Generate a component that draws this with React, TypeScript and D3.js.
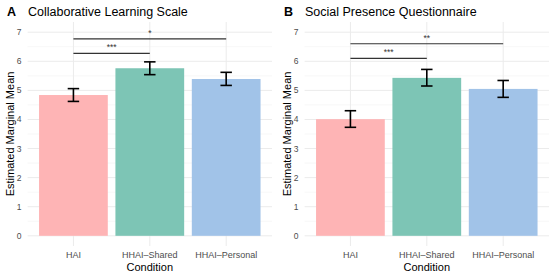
import * as d3 from "d3";

const conditions = ["HAI", "HHAI–Shared", "HHAI–Personal"];
const colors = ["#FEB4B5", "#7DC5B5", "#A1C3E8"];

// panel A: Collaborative Learning Scale
const clsMean = [4.84, 5.76, 5.39];
const clsLow = [4.62, 5.54, 5.17];
const clsHigh = [5.06, 5.98, 5.62];
const clsBrackets = [
  { from: 0, to: 1, y: 6.27, label: "***" },
  { from: 0, to: 2, y: 6.77, label: "*" },
];

// panel B: Social Presence Questionnaire
const spqMean = [4.01, 5.43, 5.05];
const spqLow = [3.73, 5.15, 4.76];
const spqHigh = [4.3, 5.72, 5.34];
const spqBrackets = [
  { from: 0, to: 1, y: 6.1, label: "***" },
  { from: 0, to: 2, y: 6.6, label: "**" },
];

const yTicks = [0, 1, 2, 3, 4, 5, 6, 7];
const FONT = "'Liberation Sans', Arial, sans-serif";

interface PanelProps {
  x0: number;
  tag: string;
  title: string;
  mean: number[];
  low: number[];
  high: number[];
  brackets: { from: number; to: number; y: number; label: string }[];
}

const TOP = 22;
const BOTTOM = 246;

function ChartPanel({ x0, tag, title, mean, low, high, brackets }: PanelProps) {
  const left = x0 + 27.6;
  const right = x0 + 272;
  const y = d3.scaleLinear().domain([-0.35, 7.35]).range([BOTTOM, TOP]);
  // discrete axis with 0.6 expansion on each side, like ggplot
  const x = d3.scaleLinear().domain([0.4, 3.6]).range([left, right]);
  const bw = x(0.45) - x(0);
  const cap = x(0.075) - x(0);
  const minor = d3.range(0.5, 7.5, 1);

  return (
    <g>
      <text x={x0 + 7} y={16} fontFamily={FONT} fontSize={12.5} fontWeight="bold" fill="#000">
        {tag}
      </text>
      <text x={x0 + 28} y={16} fontFamily={FONT} fontSize={12.5} fill="#000">
        {title}
      </text>

      {minor.map((t) => (
        <line key={"m" + t} x1={left} x2={right} y1={y(t)} y2={y(t)} stroke="#F2F2F2" strokeWidth={0.6} />
      ))}
      {yTicks.map((t) => (
        <line key={"g" + t} x1={left} x2={right} y1={y(t)} y2={y(t)} stroke="#EBEBEB" strokeWidth={1} />
      ))}
      {conditions.map((_, i) => (
        <line key={"v" + i} x1={x(i + 1)} x2={x(i + 1)} y1={TOP} y2={BOTTOM} stroke="#EBEBEB" strokeWidth={1} />
      ))}

      {yTicks.map((t) => (
        <text
          key={"yt" + t}
          x={left - 6}
          y={y(t)}
          dy="0.35em"
          textAnchor="end"
          fontFamily={FONT}
          fontSize={8.5}
          fill="#4D4D4D"
        >
          {t}
        </text>
      ))}

      {mean.map((m, i) => (
        <rect
          key={"b" + i}
          x={x(i + 1) - bw}
          width={bw * 2}
          y={y(m)}
          height={y(0) - y(m)}
          fill={colors[i]}
        />
      ))}

      {mean.map((_, i) => {
        const cx = x(i + 1);
        return (
          <g key={"e" + i} stroke="#000" strokeWidth={1.6} fill="none">
            <line x1={cx} x2={cx} y1={y(low[i])} y2={y(high[i])} />
            <line x1={cx - cap} x2={cx + cap} y1={y(low[i])} y2={y(low[i])} />
            <line x1={cx - cap} x2={cx + cap} y1={y(high[i])} y2={y(high[i])} />
          </g>
        );
      })}

      {brackets.map((b, i) => {
        const xa = x(b.from + 1);
        const xb = x(b.to + 1);
        return (
          <g key={"s" + i}>
            <line x1={xa} x2={xb} y1={y(b.y)} y2={y(b.y)} stroke="#333" strokeWidth={1.1} />
            <text
              x={(xa + xb) / 2}
              y={y(b.y) - 3}
              textAnchor="middle"
              fontFamily={FONT}
              fontSize={8.5}
              fill="#333"
            >
              {b.label}
            </text>
          </g>
        );
      })}

      {conditions.map((c, i) => (
        <text
          key={"xt" + i}
          x={x(i + 1)}
          y={258}
          textAnchor="middle"
          fontFamily={FONT}
          fontSize={9}
          fill="#4D4D4D"
        >
          {c}
        </text>
      ))}

      <text x={(left + right) / 2} y={270.5} textAnchor="middle" fontFamily={FONT} fontSize={11} fill="#000">
        Condition
      </text>
      <text
        transform={`translate(${x0 + 13.5},${(TOP + BOTTOM) / 2}) rotate(-90)`}
        textAnchor="middle"
        fontFamily={FONT}
        fontSize={11}
        fill="#000"
      >
        Estimated Marginal Mean
      </text>
    </g>
  );
}

export default function App() {
  return (
    <svg
      width={555}
      height={278}
      viewBox="0 0 555 278"
      style={{ position: "absolute", left: 0, top: 0, background: "#fff" }}
    >
      <ChartPanel
        x0={0}
        tag="A"
        title="Collaborative Learning Scale"
        mean={clsMean}
        low={clsLow}
        high={clsHigh}
        brackets={clsBrackets}
      />
      <ChartPanel
        x0={277}
        tag="B"
        title="Social Presence Questionnaire"
        mean={spqMean}
        low={spqLow}
        high={spqHigh}
        brackets={spqBrackets}
      />
    </svg>
  );
}
